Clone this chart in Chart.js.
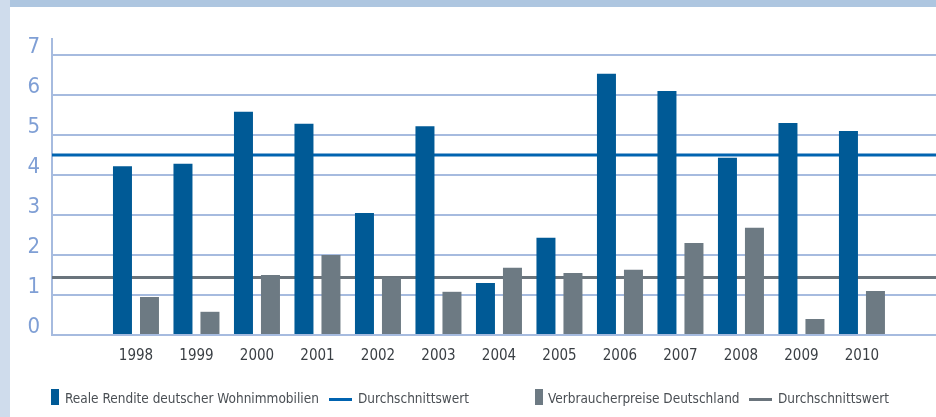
<!DOCTYPE html>
<html>
<head>
<meta charset="utf-8">
<script src="https://cdn.jsdelivr.net/npm/chart.js@4/dist/chart.umd.min.js"></script>
<style>
  html, body { margin: 0; padding: 0; }
  body { width: 936px; height: 417px; position: relative; overflow: hidden; background: #fff;
         font-family: "DejaVu Sans Condensed", sans-serif; }
  #leftStrip { position: absolute; left: 0; top: 0; width: 10px; height: 417px; background: #cfdcec; }
  #topStrip { position: absolute; left: 10px; top: 0; width: 926px; height: 7px; background: #aec6e0; }
  #wrap { position: absolute; left: 10px; top: 7px; width: 926px; height: 410px; }
  #legend { position: absolute; left: 0; top: 388px; width: 936px; height: 20px; }
  .txt { position: absolute; top: 0; height: 20px; font-size: 13.5px; color: #4a4f54; line-height: 20px; white-space: nowrap; }
  .box { position: absolute; top: 1px; width: 8px; height: 16px; }
  .line { position: absolute; top: 10px; width: 23px; height: 3px; }
</style>
</head>
<body>
<div id="leftStrip"></div>
<div id="topStrip"></div>
<div id="wrap"><canvas id="chart" width="926" height="410"></canvas></div>
<div id="legend"></div>
<script>
const years = [1998, 1999, 2000, 2001, 2002, 2003, 2004, 2005, 2006, 2007, 2008, 2009, 2010];
const realeRendite = [4.22, 4.28, 5.58, 5.28, 3.05, 5.22, 1.3, 2.43, 6.53, 6.1, 4.43, 5.3, 5.1];
const verbraucherpreise = [0.95, 0.58, 1.5, 2.0, 1.44, 1.08, 1.68, 1.55, 1.63, 2.3, 2.68, 0.4, 1.1];
const avgRendite = 4.5;
const avgPreise = 1.44;
const yTicks = [0, 1, 2, 3, 4, 5, 6, 7];

const blue = "#005a96";
const gray = "#6d7a83";
const blueLine = "#0063b0";
const grayLine = "#6a747c";
const gridColor = "#a6bbdf";
const font = "DejaVu Sans Condensed";

// horizontal average lines behind the bars
const avgLines = {
  id: "avgLines",
  beforeDatasetsDraw(chart) {
    const { ctx, chartArea, scales } = chart;
    [[avgRendite, blueLine], [avgPreise, grayLine]].forEach(([v, c]) => {
      const y = scales.y.getPixelForValue(v);
      ctx.save();
      ctx.strokeStyle = c;
      ctx.lineWidth = 3;
      ctx.beginPath();
      ctx.moveTo(chartArea.left, y);
      ctx.lineTo(chartArea.right, y);
      ctx.stroke();
      ctx.restore();
    });
  }
};

const chart = new Chart(document.getElementById("chart"), {
  type: "bar",
  data: {
    datasets: [
      { label: "Reale Rendite deutscher Wohnimmobilien", data: years.map((x, i) => ({ x, y: realeRendite[i] })), backgroundColor: blue },
      { label: "Verbraucherpreise Deutschland", data: years.map((x, i) => ({ x, y: verbraucherpreise[i] })), backgroundColor: gray }
    ]
  },
  options: {
    responsive: false,
    animation: false,
    categoryPercentage: 0.8926,
    barPercentage: 0.7037,
    layout: { padding: { top: 32, right: 0, left: 0, bottom: 0 } },
    plugins: { legend: { display: false }, tooltip: { enabled: false } },
    scales: {
      x: {
        type: "linear",
        bounds: "data",
        offset: false,
        min: 1996.612,
        max: 2011.224,
        grid: { display: false },
        border: { display: false },
        afterBuildTicks: s => { s.ticks = years.map(v => ({ value: v })); },
        ticks: {
          autoSkip: false,
          maxRotation: 0,
          padding: 4,
          color: "#3a3f44",
          font: { family: font, size: 15 },
          callback: v => String(v)
        },
        afterFit: s => { s.height = 82; }
      },
      y: {
        bounds: "data",
        min: 0,
        max: 7.4,
        grid: { color: gridColor, lineWidth: 2, drawTicks: false },
        border: { display: true, color: gridColor, width: 2 },
        afterBuildTicks: s => { s.ticks = yTicks.map(v => ({ value: v })); },
        ticks: {
          padding: 12,
          labelOffset: -8,
          color: "#7f9fd5",
          font: { family: font, size: 22 },
          callback: v => String(v)
        },
        afterFit: s => { s.width = 42; }
      }
    }
  },
  plugins: [avgLines]
});

// legend laid out as in the original
const legendItems = [
  { type: "box", color: blue, text: chart.data.datasets[0].label, mx: 51, tx: 65 },
  { type: "line", color: blueLine, text: "Durchschnittswert", mx: 329, tx: 358 },
  { type: "box", color: gray, text: chart.data.datasets[1].label, mx: 535, tx: 548 },
  { type: "line", color: grayLine, text: "Durchschnittswert", mx: 749, tx: 778 }
];
const legend = document.getElementById("legend");
legendItems.forEach(it => {
  const m = document.createElement("div");
  m.className = it.type;
  m.style.left = it.mx + "px";
  m.style.background = it.color;
  const t = document.createElement("div");
  t.className = "txt";
  t.style.left = it.tx + "px";
  t.textContent = it.text;
  legend.appendChild(m);
  legend.appendChild(t);
});
</script>
</body>
</html>
